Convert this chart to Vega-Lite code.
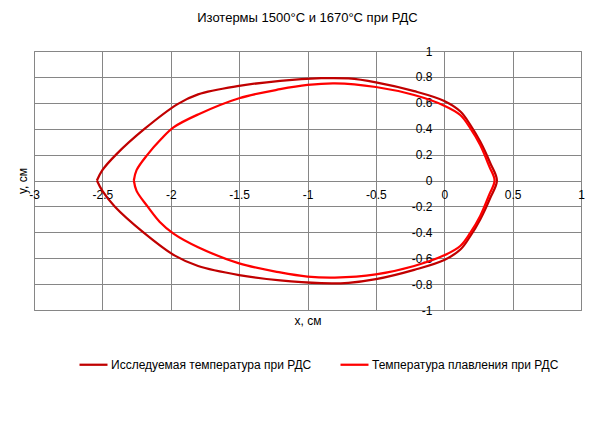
{
  "$schema": "https://vega.github.io/schema/vega-lite/v6.json",
  "width": 547,
  "height": 259,
  "autosize": {"type": "none"},
  "padding": {"left": 34, "top": 51, "right": 35, "bottom": 119},
  "background": "white",
  "title": {"text": "Изотермы 1500°C и 1670°C при РДС", "font": "Liberation Sans", "fontSize": 13, "fontWeight": "normal", "color": "#000000", "anchor": "middle", "offset": 20},
  "config": {"view": {"stroke": "#868686", "strokeWidth": 1}},
  "data": {"values": [
    {"s": "Исследуемая температура при РДС", "i": 0, "x": -2.54, "y": 0},
    {"s": "Исследуемая температура при РДС", "i": 1, "x": -2.5, "y": 0.08},
    {"s": "Исследуемая температура при РДС", "i": 2, "x": -2.4, "y": 0.2},
    {"s": "Исследуемая температура при РДС", "i": 3, "x": -2.19, "y": 0.4},
    {"s": "Исследуемая температура при РДС", "i": 4, "x": -1.95, "y": 0.59},
    {"s": "Исследуемая температура при РДС", "i": 5, "x": -1.8, "y": 0.665},
    {"s": "Исследуемая температура при РДС", "i": 6, "x": -1.5, "y": 0.73},
    {"s": "Исследуемая температура при РДС", "i": 7, "x": -1.2, "y": 0.77},
    {"s": "Исследуемая температура при РДС", "i": 8, "x": -0.9, "y": 0.79},
    {"s": "Исследуемая температура при РДС", "i": 9, "x": -0.7, "y": 0.788},
    {"s": "Исследуемая температура при РДС", "i": 10, "x": -0.5, "y": 0.758},
    {"s": "Исследуемая температура при РДС", "i": 11, "x": -0.22, "y": 0.69},
    {"s": "Исследуемая температура при РДС", "i": 12, "x": 0, "y": 0.614},
    {"s": "Исследуемая температура при РДС", "i": 13, "x": 0.12, "y": 0.531},
    {"s": "Исследуемая температура при РДС", "i": 14, "x": 0.19, "y": 0.43},
    {"s": "Исследуемая температура при РДС", "i": 15, "x": 0.263, "y": 0.3},
    {"s": "Исследуемая температура при РДС", "i": 16, "x": 0.336, "y": 0.135},
    {"s": "Исследуемая температура при РДС", "i": 17, "x": 0.385, "y": 0},
    {"s": "Исследуемая температура при РДС", "i": 18, "x": 0.336, "y": -0.135},
    {"s": "Исследуемая температура при РДС", "i": 19, "x": 0.263, "y": -0.3},
    {"s": "Исследуемая температура при РДС", "i": 20, "x": 0.19, "y": -0.43},
    {"s": "Исследуемая температура при РДС", "i": 21, "x": 0.12, "y": -0.531},
    {"s": "Исследуемая температура при РДС", "i": 22, "x": 0, "y": -0.614},
    {"s": "Исследуемая температура при РДС", "i": 23, "x": -0.22, "y": -0.69},
    {"s": "Исследуемая температура при РДС", "i": 24, "x": -0.5, "y": -0.762},
    {"s": "Исследуемая температура при РДС", "i": 25, "x": -0.7, "y": -0.79},
    {"s": "Исследуемая температура при РДС", "i": 26, "x": -0.9, "y": -0.793},
    {"s": "Исследуемая температура при РДС", "i": 27, "x": -1.2, "y": -0.772},
    {"s": "Исследуемая температура при РДС", "i": 28, "x": -1.5, "y": -0.73},
    {"s": "Исследуемая температура при РДС", "i": 29, "x": -1.8, "y": -0.66},
    {"s": "Исследуемая температура при РДС", "i": 30, "x": -1.97, "y": -0.58},
    {"s": "Исследуемая температура при РДС", "i": 31, "x": -2.2, "y": -0.4},
    {"s": "Исследуемая температура при РДС", "i": 32, "x": -2.41, "y": -0.2},
    {"s": "Исследуемая температура при РДС", "i": 33, "x": -2.5, "y": -0.08},
    {"s": "Исследуемая температура при РДС", "i": 34, "x": -2.54, "y": 0},
    {"s": "Температура плавления при РДС", "i": 0, "x": -2.27, "y": 0},
    {"s": "Температура плавления при РДС", "i": 1, "x": -2.25, "y": 0.08},
    {"s": "Температура плавления при РДС", "i": 2, "x": -2.17, "y": 0.2},
    {"s": "Температура плавления при РДС", "i": 3, "x": -2.07, "y": 0.32},
    {"s": "Температура плавления при РДС", "i": 4, "x": -1.98, "y": 0.41},
    {"s": "Температура плавления при РДС", "i": 5, "x": -1.8, "y": 0.51},
    {"s": "Температура плавления при РДС", "i": 6, "x": -1.5, "y": 0.635},
    {"s": "Температура плавления при РДС", "i": 7, "x": -1.2, "y": 0.705},
    {"s": "Температура плавления при РДС", "i": 8, "x": -1.0, "y": 0.738},
    {"s": "Температура плавления при РДС", "i": 9, "x": -0.8, "y": 0.75},
    {"s": "Температура плавления при РДС", "i": 10, "x": -0.5, "y": 0.722},
    {"s": "Температура плавления при РДС", "i": 11, "x": -0.22, "y": 0.66},
    {"s": "Температура плавления при РДС", "i": 12, "x": 0, "y": 0.578},
    {"s": "Температура плавления при РДС", "i": 13, "x": 0.117, "y": 0.506},
    {"s": "Температура плавления при РДС", "i": 14, "x": 0.19, "y": 0.405},
    {"s": "Температура плавления при РДС", "i": 15, "x": 0.263, "y": 0.274},
    {"s": "Температура плавления при РДС", "i": 16, "x": 0.33, "y": 0.107},
    {"s": "Температура плавления при РДС", "i": 17, "x": 0.368, "y": 0},
    {"s": "Температура плавления при РДС", "i": 18, "x": 0.33, "y": -0.107},
    {"s": "Температура плавления при РДС", "i": 19, "x": 0.263, "y": -0.274},
    {"s": "Температура плавления при РДС", "i": 20, "x": 0.19, "y": -0.405},
    {"s": "Температура плавления при РДС", "i": 21, "x": 0.117, "y": -0.506},
    {"s": "Температура плавления при РДС", "i": 22, "x": 0, "y": -0.578},
    {"s": "Температура плавления при РДС", "i": 23, "x": -0.22, "y": -0.66},
    {"s": "Температура плавления при РДС", "i": 24, "x": -0.5, "y": -0.725},
    {"s": "Температура плавления при РДС", "i": 25, "x": -0.8, "y": -0.75},
    {"s": "Температура плавления при РДС", "i": 26, "x": -1.0, "y": -0.742},
    {"s": "Температура плавления при РДС", "i": 27, "x": -1.2, "y": -0.71},
    {"s": "Температура плавления при РДС", "i": 28, "x": -1.5, "y": -0.64},
    {"s": "Температура плавления при РДС", "i": 29, "x": -1.8, "y": -0.515},
    {"s": "Температура плавления при РДС", "i": 30, "x": -1.98, "y": -0.41},
    {"s": "Температура плавления при РДС", "i": 31, "x": -2.08, "y": -0.32},
    {"s": "Температура плавления при РДС", "i": 32, "x": -2.17, "y": -0.2},
    {"s": "Температура плавления при РДС", "i": 33, "x": -2.25, "y": -0.08},
    {"s": "Температура плавления при РДС", "i": 34, "x": -2.27, "y": 0}
  ]},
  "mark": {"type": "line", "interpolate": "catmull-rom", "strokeWidth": 2.25, "clip": true},
  "encoding": {
    "x": {
      "field": "x", "type": "quantitative",
      "scale": {"domain": [-3, 1], "nice": false, "zero": false},
      "axis": {
        "title": "x, см", "offset": -129.5, "values": [-3, -2.5, -2, -1.5, -1, -0.5, 0, 0.5, 1],
        "labelExpr": "toString(datum.value)", "labelFlush": false, "labelOverlap": false,
        "ticks": false, "domain": false, "labelPadding": 9,
        "grid": true, "gridColor": "#868686", "gridOpacity": 1, "gridWidth": 1,
        "labelFont": "Liberation Sans", "labelFontSize": 12, "labelColor": "#000000",
        "titleFont": "Liberation Sans", "titleFontSize": 12, "titleFontWeight": "normal", "titleColor": "#000000",
        "titleY": 135, "titleBaseline": "top"
      }
    },
    "y": {
      "field": "y", "type": "quantitative",
      "scale": {"domain": [-1, 1], "nice": false, "zero": false},
      "axis": {
        "title": "y, см", "offset": -410, "values": [-1, -0.8, -0.6, -0.4, -0.2, 0, 0.2, 0.4, 0.6, 0.8, 1],
        "labelExpr": "toString(datum.value)", "labelFlush": false, "labelOverlap": false,
        "ticks": false, "domain": false, "labelPadding": 12,
        "grid": true, "gridColor": "#868686", "gridOpacity": 1, "gridWidth": 1,
        "labelFont": "Liberation Sans", "labelFontSize": 12, "labelColor": "#000000", "labelBaseline": "middle",
        "titleFont": "Liberation Sans", "titleFontSize": 12, "titleFontWeight": "normal", "titleColor": "#000000",
        "titleX": -422, "titleY": 129.5, "titleAngle": -90, "titleAlign": "center", "titleBaseline": "middle"
      }
    },
    "order": {"field": "i", "type": "quantitative"},
    "color": {
      "field": "s", "type": "nominal",
      "scale": {"domain": ["Исследуемая температура при РДС", "Температура плавления при РДС"], "range": ["#C00000", "#FF0000"]},
      "legend": {
        "title": null, "orient": "none", "direction": "horizontal", "legendX": 44, "legendY": 298,
        "symbolType": "stroke", "symbolSize": 784, "symbolStrokeWidth": 2.25, "labelOffset": 2,
        "columnPadding": 24, "labelFont": "Liberation Sans", "labelFontSize": 12, "labelColor": "#000000", "labelLimit": 400
      }
    }
  }
}
